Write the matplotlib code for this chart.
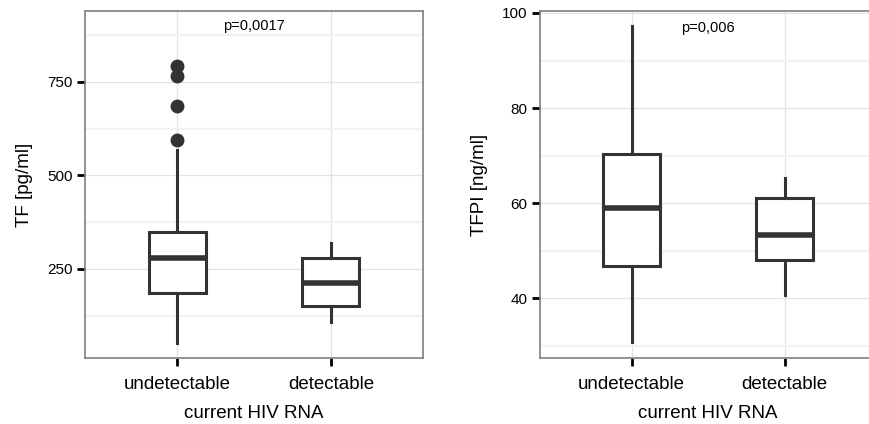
import matplotlib
matplotlib.use("Agg")
import matplotlib.pyplot as plt
from matplotlib.ticker import FixedLocator

plt.rcParams['font.family'] = ['Liberation Sans', 'DejaVu Sans']

groups = ["undetectable", "detectable"]

# TF [pg/ml]
tf_whislo = [53, 108]
tf_q1 = [185, 151]
tf_med = [280, 212]
tf_q3 = [348, 280]
tf_whishi = [568, 318]
tf_fliers = [[594, 686, 765, 793], []]

# TFPI [ng/ml]
tfpi_whislo = [30.8, 40.8]
tfpi_q1 = [46.9, 48.1]
tfpi_med = [59.1, 53.4]
tfpi_q3 = [70.4, 61.1]
tfpi_whishi = [97.2, 65.3]
tfpi_fliers = [[], []]

dark = "#333333"


def make_stats(lo, q1, med, q3, hi, fl):
    out = []
    for i in range(len(groups)):
        out.append(dict(whislo=lo[i], q1=q1[i], med=med[i], q3=q3[i],
                        whishi=hi[i], fliers=fl[i], label=groups[i]))
    return out


def style(ax, ylim, major, minor, ylabel, ptext, py):
    ax.set_xlim(0.4, 2.6)
    ax.set_ylim(*ylim)
    ax.yaxis.set_major_locator(FixedLocator(major))
    ax.yaxis.set_minor_locator(FixedLocator(minor))
    ax.xaxis.set_minor_locator(FixedLocator([]))
    ax.grid(True, which="major", color="#e3e3e3", lw=0.9)
    ax.grid(True, which="minor", axis="y", color="#f2f2f2", lw=1.6)
    ax.set_axisbelow(True)
    for s in ax.spines.values():
        s.set_color("#7f7f7f")
        s.set_linewidth(1.2)
    ax.tick_params(which="major", length=6, width=2, color="black",
                   labelsize=11, pad=3)
    ax.tick_params(which="minor", length=0)
    ax.tick_params(axis="x", labelsize=13.5, pad=7)
    ax.set_xticks([1, 2])
    ax.set_xticklabels(groups)
    ax.set_xlabel("current HIV RNA", fontsize=13.5, labelpad=9)
    ax.set_ylabel(ylabel, fontsize=13.5, labelpad=10)
    ax.text(1.5, py, ptext, ha="center", va="center", fontsize=10.5)


fig = plt.figure(figsize=(8.7, 4.24), dpi=100)
ax1 = fig.add_axes([0.0977, 0.156, 0.3885, 0.818])
ax2 = fig.add_axes([0.6207, 0.156, 0.3865, 0.818])

box_kw = dict(positions=[1, 2], widths=0.37, patch_artist=True,
              showcaps=False,
              boxprops=dict(facecolor="white", edgecolor=dark, linewidth=2.2),
              medianprops=dict(color=dark, linewidth=4),
              whiskerprops=dict(color=dark, linewidth=2.2),
              flierprops=dict(marker="o", markerfacecolor=dark,
                              markeredgecolor=dark, markersize=9))

ax1.bxp(make_stats(tf_whislo, tf_q1, tf_med, tf_q3, tf_whishi, tf_fliers), **box_kw)
style(ax1, (12, 939), [250, 500, 750], [125, 375, 625, 875],
      "TF [pg/ml]", "p=0,0017", 898)

ax2.bxp(make_stats(tfpi_whislo, tfpi_q1, tfpi_med, tfpi_q3, tfpi_whishi, tfpi_fliers), **box_kw)
style(ax2, (27.5, 100.4), [40, 60, 80, 100], [30, 50, 70, 90],
      "TFPI [ng/ml]", "p=0,006", 96.75)

fig.savefig("out.png", dpi=100)
